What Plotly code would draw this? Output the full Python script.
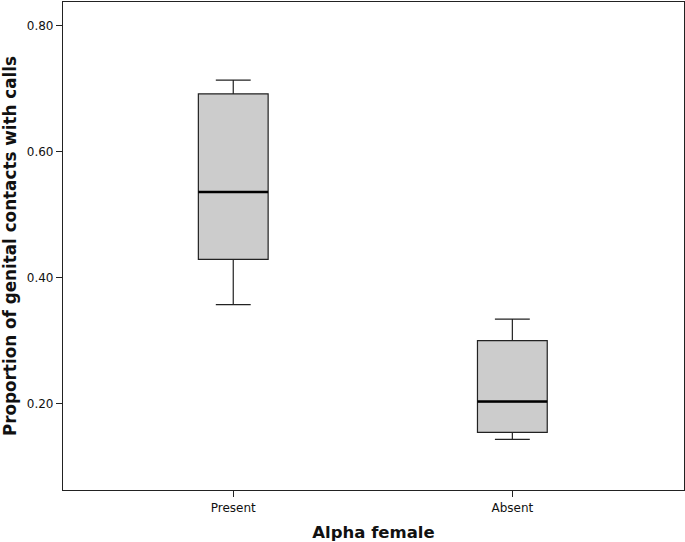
import plotly.graph_objects as go

# Box summaries (proportion of genital contacts with calls)
categories = ["Present", "Absent"]
lower_whisker = [0.357, 0.143]
q1_values = [0.429, 0.154]
medians = [0.536, 0.203]
q3_values = [0.692, 0.300]
upper_whisker = [0.714, 0.334]

y_ticks = [0.20, 0.40, 0.60, 0.80]

positions = list(range(len(categories)))
box_width = 0.25

fig = go.Figure()

for i, cat in enumerate(categories):
    fig.add_trace(go.Box(
        x=[positions[i]],
        q1=[q1_values[i]],
        median=[medians[i]],
        q3=[q3_values[i]],
        lowerfence=[lower_whisker[i]],
        upperfence=[upper_whisker[i]],
        name=cat,
        width=box_width,
        whiskerwidth=0.5,
        fillcolor="#cccccc",
        line=dict(color="#222222", width=1.2),
        hoverinfo="skip",
        showlegend=False,
    ))
    # thicker median line, like SPSS
    fig.add_shape(
        type="line", xref="x", yref="y",
        x0=positions[i] - box_width / 2, x1=positions[i] + box_width / 2,
        y0=medians[i], y1=medians[i],
        line=dict(color="black", width=2.5),
    )

fig.update_layout(
    width=685,
    height=542,
    margin=dict(l=63, r=1, t=2, b=52, autoexpand=False),
    paper_bgcolor="white",
    plot_bgcolor="white",
    font=dict(family="DejaVu Sans", color="#111111"),
    showlegend=False,
)

fig.update_xaxes(
    range=[-0.61, 1.615],
    tickvals=positions,
    ticktext=categories,
    ticks="outside",
    ticklen=6,
    tickcolor="#222222",
    tickfont=dict(size=12),
    showgrid=False,
    zeroline=False,
    showline=True,
    linecolor="#222222",
    linewidth=1.2,
    mirror=True,
    title=dict(text="<b>Alpha female</b>", font=dict(size=16.5), standoff=12),
)

fig.update_yaxes(
    range=[0.0625, 0.838],
    tickvals=y_ticks,
    tickformat=".2f",
    ticks="outside",
    ticklen=6,
    tickcolor="#222222",
    tickfont=dict(size=12),
    showgrid=False,
    zeroline=False,
    showline=True,
    linecolor="#222222",
    linewidth=1.2,
    mirror=True,
    title=dict(text="<b>Proportion of genital contacts with calls</b>",
               font=dict(size=16.8), standoff=6),
)

# the page's default 8px body margin would push the figure off the window
fig.write_html(
    "out.html",
    config={"responsive": False, "displayModeBar": False},
    post_script="document.body.style.margin='0px';document.body.style.overflow='hidden';",
)
